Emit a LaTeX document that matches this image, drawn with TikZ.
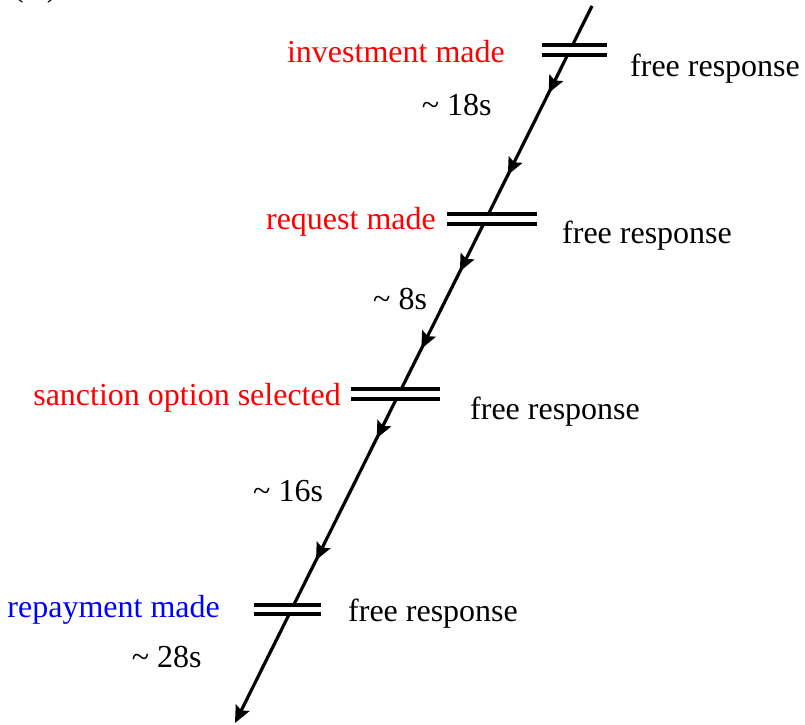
\documentclass[tikz,border=0pt]{standalone}
\usepackage{fontspec}
\setmainfont{Liberation Serif}
\usetikzlibrary{arrows.meta,decorations.markings}
\tikzset{
  lbl/.style={inner sep=0pt, font=\fontsize{32bp}{38bp}\selectfont},
  evt/.style={lbl, text=red, anchor=base east},
  resp/.style={lbl, anchor=base west},
  dur/.style={lbl, anchor=base west},
  barline/.style={line width=4bp, line cap=butt},
  seg/.style={line width=3.2bp, line cap=butt},
  headtip/.tip={Stealth[length=17bp, width=15bp, inset=3bp]},
  twoarrows/.style 2 args={decoration={markings,
      mark=at position #1 with {\arrow{headtip}},
      mark=at position #2 with {\arrow{headtip}}},
    postaction={decorate}}
}
\begin{document}
\begin{tikzpicture}[x=1bp, y=-1bp]
\useasboundingbox (0,0) rectangle (805,725);

% panel label (mostly cut off at the top, as in the reference)
\node[lbl, anchor=base west] (panel) at (13,-3) {(A)};

% crossing points of the time line with the double bars
\coordinate (top) at (592,6);
\coordinate (i1) at (572.3,45.5);
\coordinate (i2) at (567.3,55.5);
\coordinate (r1) at (488.3,214.3);
\coordinate (r2) at (483.5,224);
\coordinate (s1) at (401.3,389);
\coordinate (s2) at (396.3,399);
\coordinate (p1) at (293.7,605);
\coordinate (p2) at (289.3,614);
\coordinate (bottom) at (235,723);

% double bars
\draw[barline] (541.7,45.5) -- (606.7,45.5) (541.7,55.5) -- (606.7,55.5);
\draw[barline] (446.7,214.3) -- (536.7,214.3) (446.7,224) -- (536.7,224);
\draw[barline] (350.7,389) -- (440,389) (350.7,399) -- (440,399);
\draw[barline] (254,605) -- (320.7,605) (254,614) -- (320.7,614);

% time line segments
\draw[seg] (top) -- (i1);
\draw[seg, twoarrows={42bp}{-44bp}] (i2) -- (r1);
\draw[seg, twoarrows={53bp}{-45bp}] (r2) -- (s1);
\draw[seg, twoarrows={44bp}{-50bp}] (s2) -- (p1);
\draw[seg, -{Stealth[length=17bp, width=15bp, inset=3bp]}] (p2) -- (bottom);

% event labels
\node[evt] (inv) at (505,62.3) {investment made};
\node[evt] (req) at (436,229) {request made};
\node[evt] (san) at (341,405) {sanction option selected};
\node[evt, text=blue] (rep) at (220,617.3) {repayment made};

% free response labels
\node[resp] (f1) at (630,76.7) {free response};
\node[resp] (f2) at (562,243) {free response};
\node[resp] (f3) at (470,419) {free response};
\node[resp] (f4) at (348,621.7) {free response};

% durations
\node[dur] (d1) at (421.7,116) {\textasciitilde{} 18s};
\node[dur] (d2) at (373,309) {\textasciitilde{} 8s};
\node[dur] (d3) at (253,501) {\textasciitilde{} 16s};
\node[dur] (d4) at (131.7,667.7) {\textasciitilde{} 28s};
\end{tikzpicture}
\end{document}
